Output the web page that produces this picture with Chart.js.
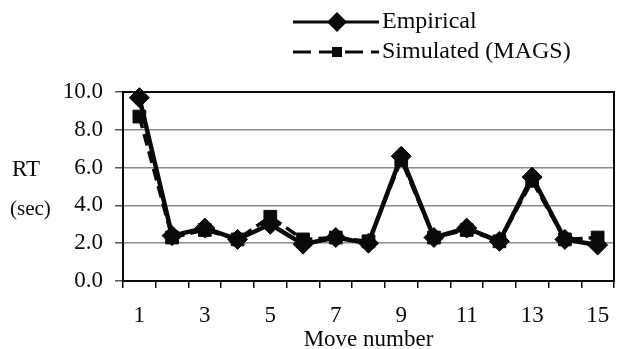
<!DOCTYPE html>
<html>
<head>
<meta charset="utf-8">
<script src="https://cdn.jsdelivr.net/npm/chart.js@4.4.1/dist/chart.umd.min.js"></script>
<style>
  html, body { margin: 0; padding: 0; background: #fff; }
  canvas { display: block; }
</style>
</head>
<body>
<canvas id="c" width="625" height="349"></canvas>
<script>
// ---- data ----
const moves = ['1','2','3','4','5','6','7','8','9','10','11','12','13','14','15'];
const empirical = [9.7, 2.4, 2.8, 2.2, 3.0, 1.95, 2.3, 2.0, 6.6, 2.3, 2.8, 2.1, 5.5, 2.2, 1.9];
const simulated = [8.7, 2.3, 2.7, 2.2, 3.4, 2.2, 2.3, 2.1, 6.4, 2.3, 2.7, 2.1, 5.3, 2.2, 2.3];
const yTicks = [0, 2, 4, 6, 8, 10];
const seriesNames = ['Empirical', 'Simulated (MAGS)'];
const yTitle = ['RT', '(sec)'];
const xTitle = 'Move number';

const FONT = '"Liberation Serif", "Times New Roman", serif';
const INK = '#0a0a0a';

const framePlugin = {
  id: 'frame',
  beforeDatasetsDraw(chart) {
    const { ctx, chartArea: a } = chart;
    ctx.save();
    ctx.strokeStyle = INK;
    ctx.lineWidth = 2;
    ctx.strokeRect(a.left, a.top, a.right - a.left, a.bottom - a.top);
    ctx.restore();
  },
  afterDraw(chart) {
    const { ctx } = chart;
    ctx.save();
    // y title
    ctx.fillStyle = INK;
    ctx.textBaseline = 'middle';
    ctx.textAlign = 'left';
    ctx.font = '23px ' + FONT;
    ctx.fillText(yTitle[0], 12, 170);
    ctx.font = '21px ' + FONT;
    ctx.fillText(yTitle[1], 10, 209);

    // legend
    const rows = [
      { y: 22, ds: chart.data.datasets[0] },
      { y: 52, ds: chart.data.datasets[1] }
    ];
    const x1 = 293, x2 = 379, xm = 337;
    rows.forEach((r, i) => {
      ctx.strokeStyle = INK;
      ctx.lineWidth = 3;
      ctx.setLineDash(i === 1 ? [18, 8] : []);
      ctx.beginPath();
      ctx.moveTo(x1, r.y);
      ctx.lineTo(x2, r.y);
      ctx.stroke();
      ctx.setLineDash([]);
      ctx.fillStyle = INK;
      ctx.beginPath();
      if (i === 0) {
        const rr = 10;
        ctx.moveTo(xm, r.y - rr);
        ctx.lineTo(xm + rr, r.y);
        ctx.lineTo(xm, r.y + rr);
        ctx.lineTo(xm - rr, r.y);
        ctx.closePath();
      } else {
        ctx.rect(xm - 5, r.y - 5, 10, 10);
      }
      ctx.fill();
      ctx.font = '24px ' + FONT;
      ctx.textBaseline = 'middle';
      ctx.fillText(seriesNames[i], 382, r.y);
    });
    ctx.restore();
  }
};

new Chart(document.getElementById('c'), {
  type: 'line',
  data: {
    labels: moves,
    datasets: [
      {
        label: seriesNames[0],
        data: empirical,
        borderColor: INK,
        backgroundColor: INK,
        borderWidth: 4.5,
        pointStyle: 'rectRot',
        pointRadius: 10,
        pointBorderWidth: 1,
        pointHoverRadius: 10,
        tension: 0,
        clip: false
      },
      {
        label: seriesNames[1],
        data: simulated,
        borderColor: INK,
        backgroundColor: INK,
        borderWidth: 3.5,
        borderDash: [12, 6],
        pointStyle: 'rect',
        pointRadius: 9,
        pointBorderWidth: 1,
        pointHoverRadius: 9,
        tension: 0,
        clip: false
      }
    ]
  },
  options: {
    responsive: false,
    animation: false,
    events: [],
    layout: { padding: { top: 92, right: 4, left: 0, bottom: 0 } },
    plugins: {
      legend: { display: false },
      title: { display: false },
      tooltip: { enabled: false }
    },
    scales: {
      x: {
        type: 'category',
        offset: true,
        afterFit(s) { s.height = 68; },
        grid: {
          offset: true,
          drawOnChartArea: false,
          drawTicks: true,
          tickLength: 7,
          tickColor: INK,
          lineWidth: 1.5
        },
        border: { display: true, color: INK, width: 2 },
        ticks: {
          autoSkip: false,
          maxRotation: 0,
          color: INK,
          padding: 14,
          font: { family: FONT, size: 23 },
          callback(v, i) { return i % 2 === 0 ? moves[i] : ''; }
        },
        title: {
          display: true,
          text: xTitle,
          color: INK,
          font: { family: FONT, size: 23, lineHeight: 0.75 },
          padding: { top: 0, bottom: 0 }
        }
      },
      y: {
        min: 0,
        max: 10,
        afterFit(s) { s.width = 123; },
        afterBuildTicks(s) { s.ticks = yTicks.map(v => ({ value: v })); },
        grid: {
          color: '#8a8a8a',
          lineWidth: 1.5,
          tickLength: 8,
          tickColor: '#555'
        },
        border: { display: true, color: INK, width: 2 },
        ticks: {
          color: INK,
          padding: 12,
          font: { family: FONT, size: 23 },
          callback(v) { return Number(v).toFixed(1); }
        }
      }
    }
  },
  plugins: [framePlugin]
});
</script>
</body>
</html>
